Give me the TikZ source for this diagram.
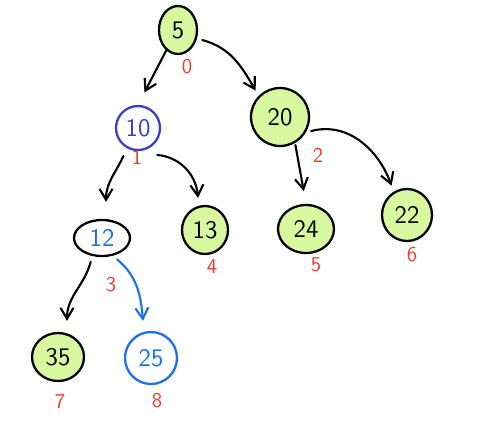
\documentclass[tikz,border=0pt]{standalone}
\usetikzlibrary{arrows.meta,shapes.geometric}
\definecolor{lime}{HTML}{D8F8A0}
\definecolor{indigo}{HTML}{3C3CC8}
\definecolor{skyblue}{HTML}{1A6EF0}
\definecolor{idxred}{HTML}{F03C28}

\begin{document}
\begin{tikzpicture}[x=0.02cm,y=-0.02cm,>={Straight Barb[length=2.2mm,width=2.6mm]},
    line cap=round,line join=round,font=\sffamily]
  \tikzset{
    heapnode/.style={ellipse,draw=black,line width=1.3pt,inner sep=0pt,font=\sffamily\Large},
    leaf/.style={heapnode,fill=lime},
    idx/.style={text=idxred,font=\sffamily\large},
    edge/.style={black,line width=1.2pt,->}
  }
  \useasboundingbox (0,0) rectangle (489,434);

  % Heap nodes.
  \node[leaf,minimum width=0.76cm,minimum height=0.96cm] (n5) at (178,30) {5};
  \node[heapnode,draw=indigo,text=indigo,minimum width=0.88cm,minimum height=0.88cm] (n10) at (138,128) {10};
  \node[leaf,minimum width=1.16cm,minimum height=1.16cm] (n20) at (280,117) {20};
  \node[heapnode,text=skyblue,minimum width=1.12cm,minimum height=0.72cm] (n12) at (102,238) {12};
  \node[leaf,minimum width=0.92cm,minimum height=0.96cm] (n13) at (205,230) {13};
  \node[leaf,minimum width=1.12cm,minimum height=0.96cm] (n24) at (306,229) {24};
  \node[leaf,minimum width=1.0cm,minimum height=1.04cm] (n22) at (407,215) {22};
  \node[leaf,minimum width=1.04cm,minimum height=0.96cm] (n35) at (58,357) {35};
  \node[heapnode,draw=skyblue,text=skyblue,minimum width=1.04cm,minimum height=1.04cm] (n25) at (151,358) {25};

  % Array indices.
  \node[idx] (i0) at (187,67) {0};
  \node[idx] (i1) at (137,157) {1};
  \node[idx] (i2) at (318,155) {2};
  \node[idx] (i3) at (111,285) {3};
  \node[idx] (i4) at (212,267) {4};
  \node[idx] (i5) at (316,265) {5};
  \node[idx] (i6) at (412,255) {6};
  \node[idx] (i7) at (60,402) {7};
  \node[idx] (i8) at (157,401) {8};

  % Parent to child.
  \draw[edge,shorten >=0.28cm] (n5.-120) -- (n10.north);
  \draw[edge] ([shift={(0.1cm,-0.06cm)}]n5.-20) to[out=-15,in=120] ([shift={(-0.06cm,0.1cm)}]n20.135);
  \draw[edge] ([shift={(-0.06cm,-0.16cm)}]n10.-120) to[out=-115,in=90] ([shift={(0.08cm,0.34cm)}]n12.north);
  \draw[edge] ([shift={(0.12cm,-0.16cm)}]n10.-55) to[out=-5,in=95] ([shift={(-0.14cm,0.14cm)}]n13.north);
  \draw[edge,shorten <=0.04cm,shorten >=0.26cm] (n20.-60) -- (n24.north);
  \draw[edge] ([shift={(0.1cm,0.02cm)}]n20.-30) to[out=15,in=110] ([shift={(-0.04cm,0.12cm)}]n22.120);
  \draw[edge] ([shift={(-0.02cm,-0.12cm)}]n12.-120) to[out=-105,in=90] ([shift={(0.18cm,0.22cm)}]n35.north);
  \draw[edge,skyblue] ([shift={(0.06cm,-0.08cm)}]n12.-55) to[out=-40,in=95] ([shift={(-0.16cm,0.2cm)}]n25.north);
\end{tikzpicture}
\end{document}
